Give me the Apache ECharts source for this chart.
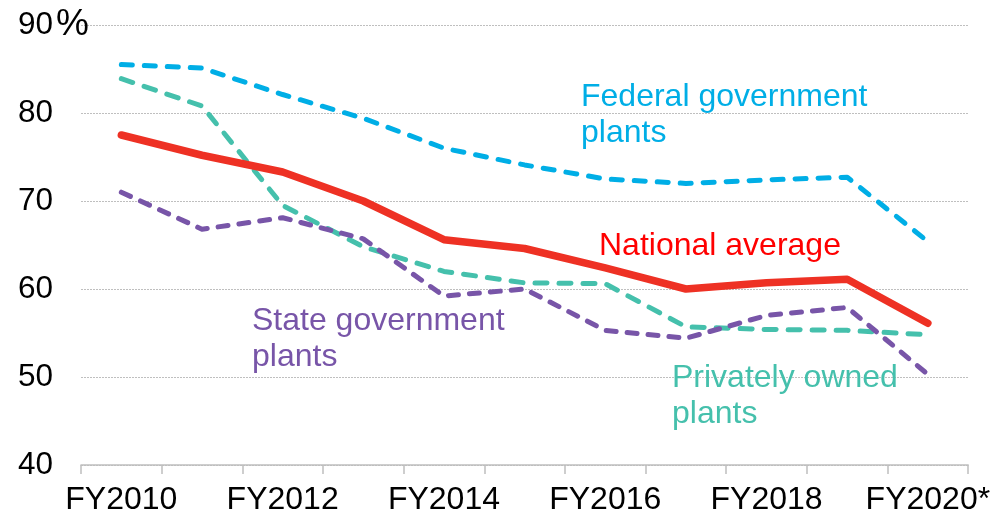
<!DOCTYPE html>
<html>
<head>
<meta charset="utf-8">
<script src="https://cdn.jsdelivr.net/npm/echarts@6/dist/echarts.min.js"></script>
<style>
html,body{margin:0;padding:0;background:#fff;}
#chart{width:993px;height:516px;}
</style>
</head>
<body>
<div id="chart"></div>
<script>
var categories = ['FY2010','FY2011','FY2012','FY2013','FY2014','FY2015','FY2016','FY2017','FY2018','FY2019','FY2020*'];
var federal  = [85.5, 85.1, 82.1, 79.4, 76.0, 74.1, 72.5, 72.0, 72.4, 72.7, 65.4];
var national = [77.5, 75.2, 73.3, 70.0, 65.6, 64.6, 62.4, 60.0, 60.7, 61.1, 56.1];
var privately = [83.9, 80.8, 69.5, 64.8, 62.0, 60.7, 60.6, 55.7, 55.4, 55.3, 54.8];
var state    = [71.0, 66.8, 68.1, 65.7, 59.2, 60.0, 55.3, 54.4, 57.0, 57.9, 50.3];
var yTicks = [40, 50, 60, 70, 80, 90];

var FONT = '"Liberation Sans", Arial, sans-serif';
var chart = echarts.init(document.getElementById('chart'), null, {renderer:'canvas'});

function dashed(name, data, color, dash){
  return {
    name: name, type: 'line', data: data, symbol: 'none', smooth: false,
    lineStyle: {color: color, width: 5, type: dash, cap: 'round', join: 'round'},
    z: 2
  };
}

chart.setOption({
  animation: false,
  grid: {left: 81, right: 22, top: 25, bottom: 50, containLabel: false},
  xAxis: {
    type: 'category',
    data: categories,
    boundaryGap: true,
    axisLine: {show: true, lineStyle: {color: '#BFBFBF', width: 1.5}},
    axisTick: {show: true, interval: 0, length: 9, lineStyle: {color: '#BFBFBF', width: 1.5}},
    axisLabel: {interval: 1, fontSize: 32, color: '#000', fontFamily: FONT, margin: 19}
  },
  yAxis: {
    type: 'value',
    min: yTicks[0], max: yTicks[yTicks.length-1], interval: 10,
    axisLine: {show: false},
    axisTick: {show: false},
    axisLabel: {
      fontSize: 31.5, color: '#000', fontFamily: FONT, align: 'left', margin: 63,
      formatter: function(v){ return v === 90 ? '90{p|%}' : String(v); },
      rich: {p: {fontSize: 37, fontFamily: FONT, color: '#000', padding: [0, 0, 0, 3]}}
    },
    splitLine: {show: true, lineStyle: {color: '#BFBFBF', width: 1, type: [2, 1]}}
  },
  series: [
    dashed('Federal government plants', federal, '#00AEE6', [11, 12]),
    dashed('Privately owned plants', privately, '#45C0AC', [12, 12]),
    dashed('State government plants', state, '#7855A8', [10, 11]),
    {
      name: 'National average', type: 'line', data: national, symbol: 'none',
      lineStyle: {color: '#EE3124', width: 7.5, cap: 'round', join: 'round'},
      z: 3
    }
  ],
  graphic: [
    {type: 'text', left: 581, top: 79, z: 10,
     style: {text: 'Federal government\nplants', fill: '#00AEE6', font: '32px ' + FONT, lineHeight: 36}},
    {type: 'text', left: 599, top: 228, z: 10,
     style: {text: 'National average', fill: '#FF0000', font: '32px ' + FONT, lineHeight: 36}},
    {type: 'text', left: 252, top: 303, z: 10,
     style: {text: 'State government\nplants', fill: '#7855A8', font: '32px ' + FONT, lineHeight: 36}},
    {type: 'text', left: 672, top: 360, z: 10,
     style: {text: 'Privately owned\nplants', fill: '#45C0AC', font: '32px ' + FONT, lineHeight: 36}}
  ]
});
</script>
</body>
</html>
